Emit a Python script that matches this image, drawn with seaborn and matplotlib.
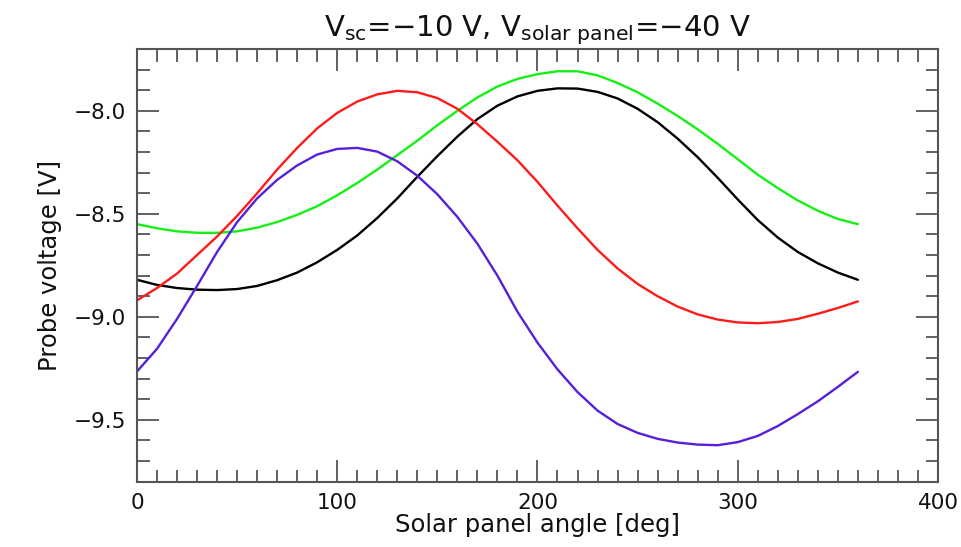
import numpy as np
import pandas as pd
import matplotlib
matplotlib.use("Agg")
import matplotlib.pyplot as plt
import seaborn as sns
from matplotlib.ticker import MultipleLocator, FuncFormatter

angle = list(range(0, 361, 10))

black = [-8.82, -8.845, -8.86, -8.868, -8.87, -8.865, -8.85, -8.822, -8.785, -8.735,
         -8.675, -8.605, -8.52, -8.425, -8.32, -8.22, -8.125, -8.04, -7.975, -7.93,
         -7.903, -7.891, -7.892, -7.908, -7.94, -7.99, -8.055, -8.135, -8.225, -8.325,
         -8.43, -8.53, -8.615, -8.685, -8.74, -8.785, -8.82]

green = [-8.55, -8.57, -8.585, -8.592, -8.592, -8.585, -8.567, -8.54, -8.505, -8.463,
         -8.41, -8.35, -8.285, -8.215, -8.145, -8.07, -8.0, -7.935, -7.882, -7.845,
         -7.822, -7.808, -7.808, -7.828, -7.865, -7.91, -7.965, -8.025, -8.09, -8.16,
         -8.235, -8.31, -8.375, -8.435, -8.485, -8.525, -8.55]

red = [-8.92, -8.86, -8.79, -8.70, -8.61, -8.51, -8.40, -8.285, -8.18, -8.085,
       -8.01, -7.955, -7.92, -7.903, -7.91, -7.938, -7.99, -8.065, -8.15, -8.24,
       -8.345, -8.46, -8.57, -8.675, -8.765, -8.84, -8.9, -8.95, -8.988, -9.013,
       -9.027, -9.031, -9.025, -9.01, -8.985, -8.957, -8.925]

blue = [-9.265, -9.155, -9.01, -8.85, -8.685, -8.54, -8.425, -8.335, -8.265, -8.212,
        -8.185, -8.18, -8.198, -8.245, -8.315, -8.405, -8.515, -8.645, -8.80, -8.975,
        -9.125, -9.255, -9.365, -9.455, -9.52, -9.563, -9.592, -9.61, -9.62, -9.623,
        -9.608, -9.578, -9.53, -9.472, -9.41, -9.34, -9.267]

series_names = ["black", "green", "red", "blue"]
series_colors = ["#000000", "#14f014", "#ff1a1a", "#5520d8"]

x_ticks = [0, 100, 200, 300, 400]
y_ticks = [-9.5, -9.0, -8.5, -8.0]

title = r"V$_{\mathrm{sc}}$=$-$10 V, V$_{\mathrm{solar\ panel}}$=$-$40 V"
xlabel = "Solar panel angle [deg]"
ylabel = "Probe voltage [V]"

frames = []
for name, vals in zip(series_names, [black, green, red, blue]):
    frames.append(pd.DataFrame({"angle": angle, "voltage": vals, "series": name}))
df = pd.concat(frames, ignore_index=True)

sns.set_theme(style="white")
plt.rcParams["font.family"] = ["DejaVu Sans"]
plt.rcParams["mathtext.fontset"] = "dejavusans"

fig = plt.figure(figsize=(9.62, 5.47), dpi=100)
ax = fig.add_axes([0.1424, 0.1194, 0.8326, 0.791])

sns.lineplot(data=df, x="angle", y="voltage", hue="series",
             hue_order=series_names, palette=series_colors,
             linewidth=1.7, legend=False, ax=ax, sort=False)

ax.set_xlim(0, 400)
ax.set_ylim(-9.8, -7.7)
ax.set_xticks(x_ticks)
ax.set_yticks(y_ticks)
ax.xaxis.set_minor_locator(MultipleLocator(10))
ax.yaxis.set_minor_locator(MultipleLocator(0.1))
ax.yaxis.set_major_formatter(FuncFormatter(lambda v, p: f"{v:.1f}".replace("-", "\u2212")))
ax.xaxis.set_major_formatter(FuncFormatter(lambda v, p: f"{v:.0f}"))

tick_col = "#555555"
ax.tick_params(which="both", direction="in", top=True, right=True,
               bottom=True, left=True, color=tick_col, labelsize=15.5,
               labelcolor="#111111")
ax.tick_params(which="major", length=16, width=1.3, pad=8)
ax.tick_params(which="minor", length=9, width=1.3)
for sp in ax.spines.values():
    sp.set_color(tick_col)
    sp.set_linewidth(1.5)

ax.set_xlabel(xlabel, fontsize=17.5, color="#111111", labelpad=0)
ax.set_ylabel(ylabel, fontsize=17.5, color="#111111", labelpad=8)
ax.set_title(title, fontsize=21, color="#111111", pad=9)

fig.savefig("out.png", dpi=100)
